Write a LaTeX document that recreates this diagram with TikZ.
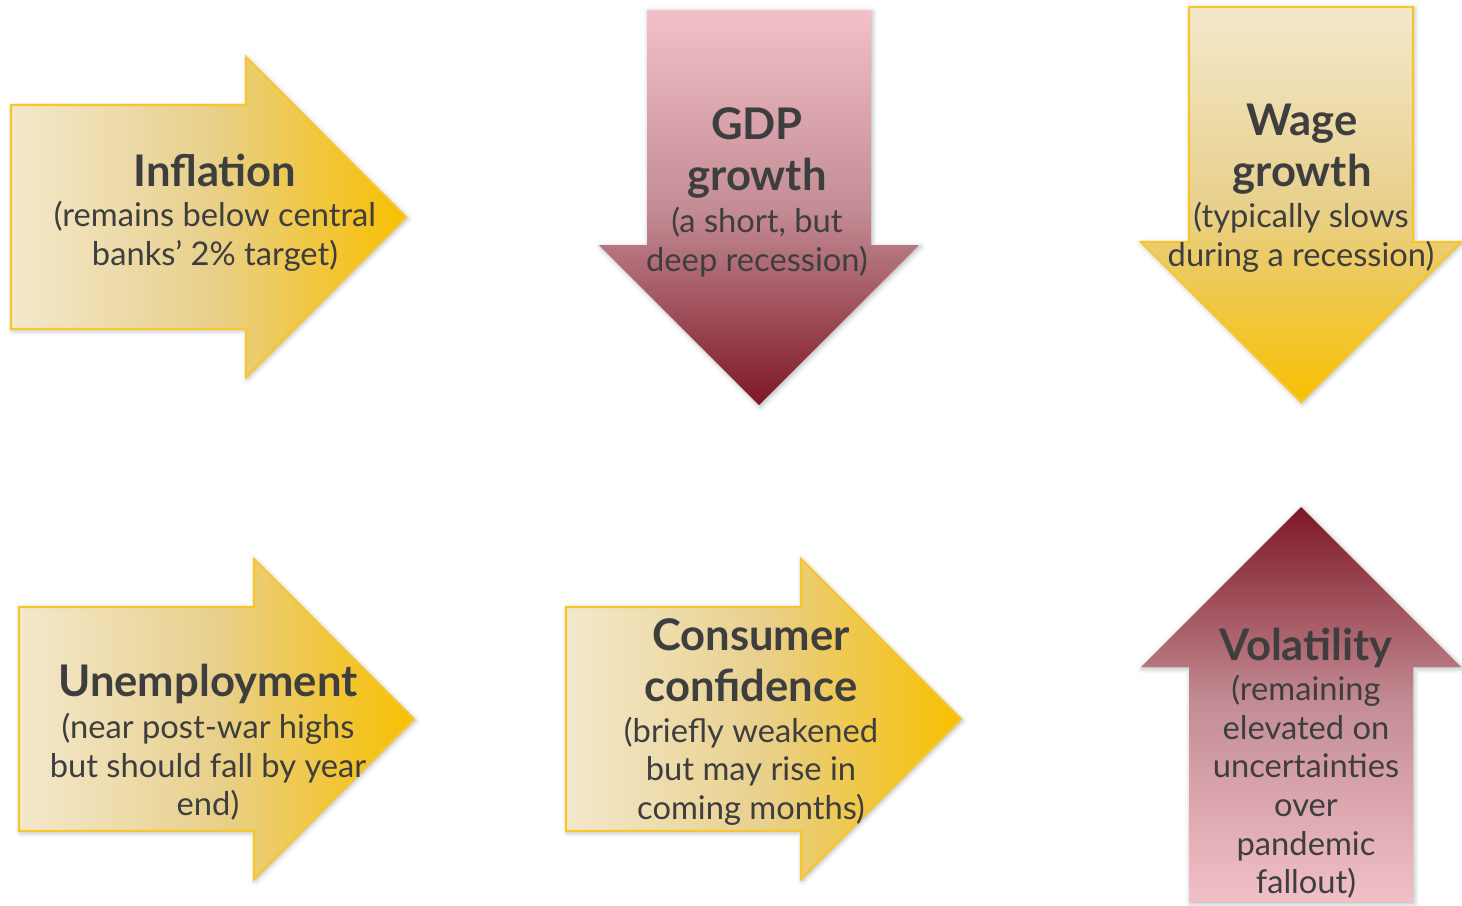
\documentclass[tikz,border=0pt]{standalone}
\usepackage{fontspec}
\setmainfont{Lato}
\usepackage{xcolor}
\usetikzlibrary{shadows.blur}

\definecolor{cream}{HTML}{F3E8CC}
\definecolor{straw}{HTML}{E8D08C}
\definecolor{gold}{HTML}{F8BF00}
\definecolor{goldline}{HTML}{F6C62E}
\definecolor{blush}{HTML}{F2C0C8}
\definecolor{rose}{HTML}{C48D95}
\definecolor{wine}{HTML}{7D1725}
\definecolor{ink}{HTML}{3E3E3E}

\begin{document}
\begin{tikzpicture}[x=0.1mm,y=-0.1mm,
    soft/.style={blur shadow={shadow xshift=0.4pt,shadow yshift=-0.5pt,
        shadow blur radius=1.4pt,shadow opacity=30}},
    goldedge/.style={draw=goldline,line width=0.6pt,line join=miter},
    % middle color goes last, the outer colors reset it
    goldright/.style={soft,goldedge,left color=cream,right color=gold,middle color=straw},
    golddown/.style={soft,goldedge,top color=cream,bottom color=gold,middle color=straw},
    reddown/.style={soft,top color=blush,bottom color=wine,middle color=rose},
    redup/.style={soft,top color=wine,bottom color=blush,middle color=rose},
    head/.style={text=ink,align=center,font=\fontsize{12.4}{14.5}\selectfont\bfseries},
    note/.style={text=ink,align=center,font=\fontsize{9.3}{11}\selectfont}]
    \useasboundingbox (0,0) rectangle (1462,905);

    % arrows pointing right
    \foreach \x/\y in {11/105, 19/607, 566/607} {
        \path[goldright] (\x,\y) -- ++(235,0) -- ++(0,-48) -- ++(160,160)
            -- ++(-160,160) -- ++(0,-48) -- ++(-235,0) -- cycle;
    }
    % arrows pointing down
    \path[reddown] (647,10) -- ++(224,0) -- ++(0,235) -- ++(48,0)
        -- ++(-160,160) -- ++(-160,-160) -- ++(48,0) -- cycle;
    \path[golddown] (1189,7) -- ++(224,0) -- ++(0,235) -- ++(48,0)
        -- ++(-160,160) -- ++(-160,-160) -- ++(48,0) -- cycle;
    % arrow pointing up
    \path[redup] (1189,902) -- ++(224,0) -- ++(0,-235) -- ++(48,0)
        -- ++(-160,-160) -- ++(-160,160) -- ++(48,0) -- cycle;

    % labels
    \node[head] (infl) at (215,170) {Inflation};
    \node[note] (infl-note) at (215,236) {(remains below central\\banks’ 2\% target)};
    \node[head] (gdp) at (757,153) {GDP\\growth};
    \node[note] (gdp-note) at (757,242) {(a short, but\\deep recession)};
    \node[head] (wage) at (1302,149) {Wage\\growth};
    \node[note] (wage-note) at (1301,237) {(typically slows\\during a recession)};
    \node[head] (unemp) at (208,684) {Unemployment};
    \node[note] (unemp-note) at (208,767) {(near post-war highs\\but should fall by year\\end)};
    \node[head] (conf) at (751,660) {Consumer\\confidence};
    \node[note] (conf-note) at (751,771) {(briefly weakened\\but may rise in\\coming months)};
    \node[head] (vol) at (1306,648) {Volatility};
    \node[note] (vol-note) at (1306,787) {(remaining\\elevated on\\uncertainties\\over\\pandemic\\fallout)};
\end{tikzpicture}
\end{document}
